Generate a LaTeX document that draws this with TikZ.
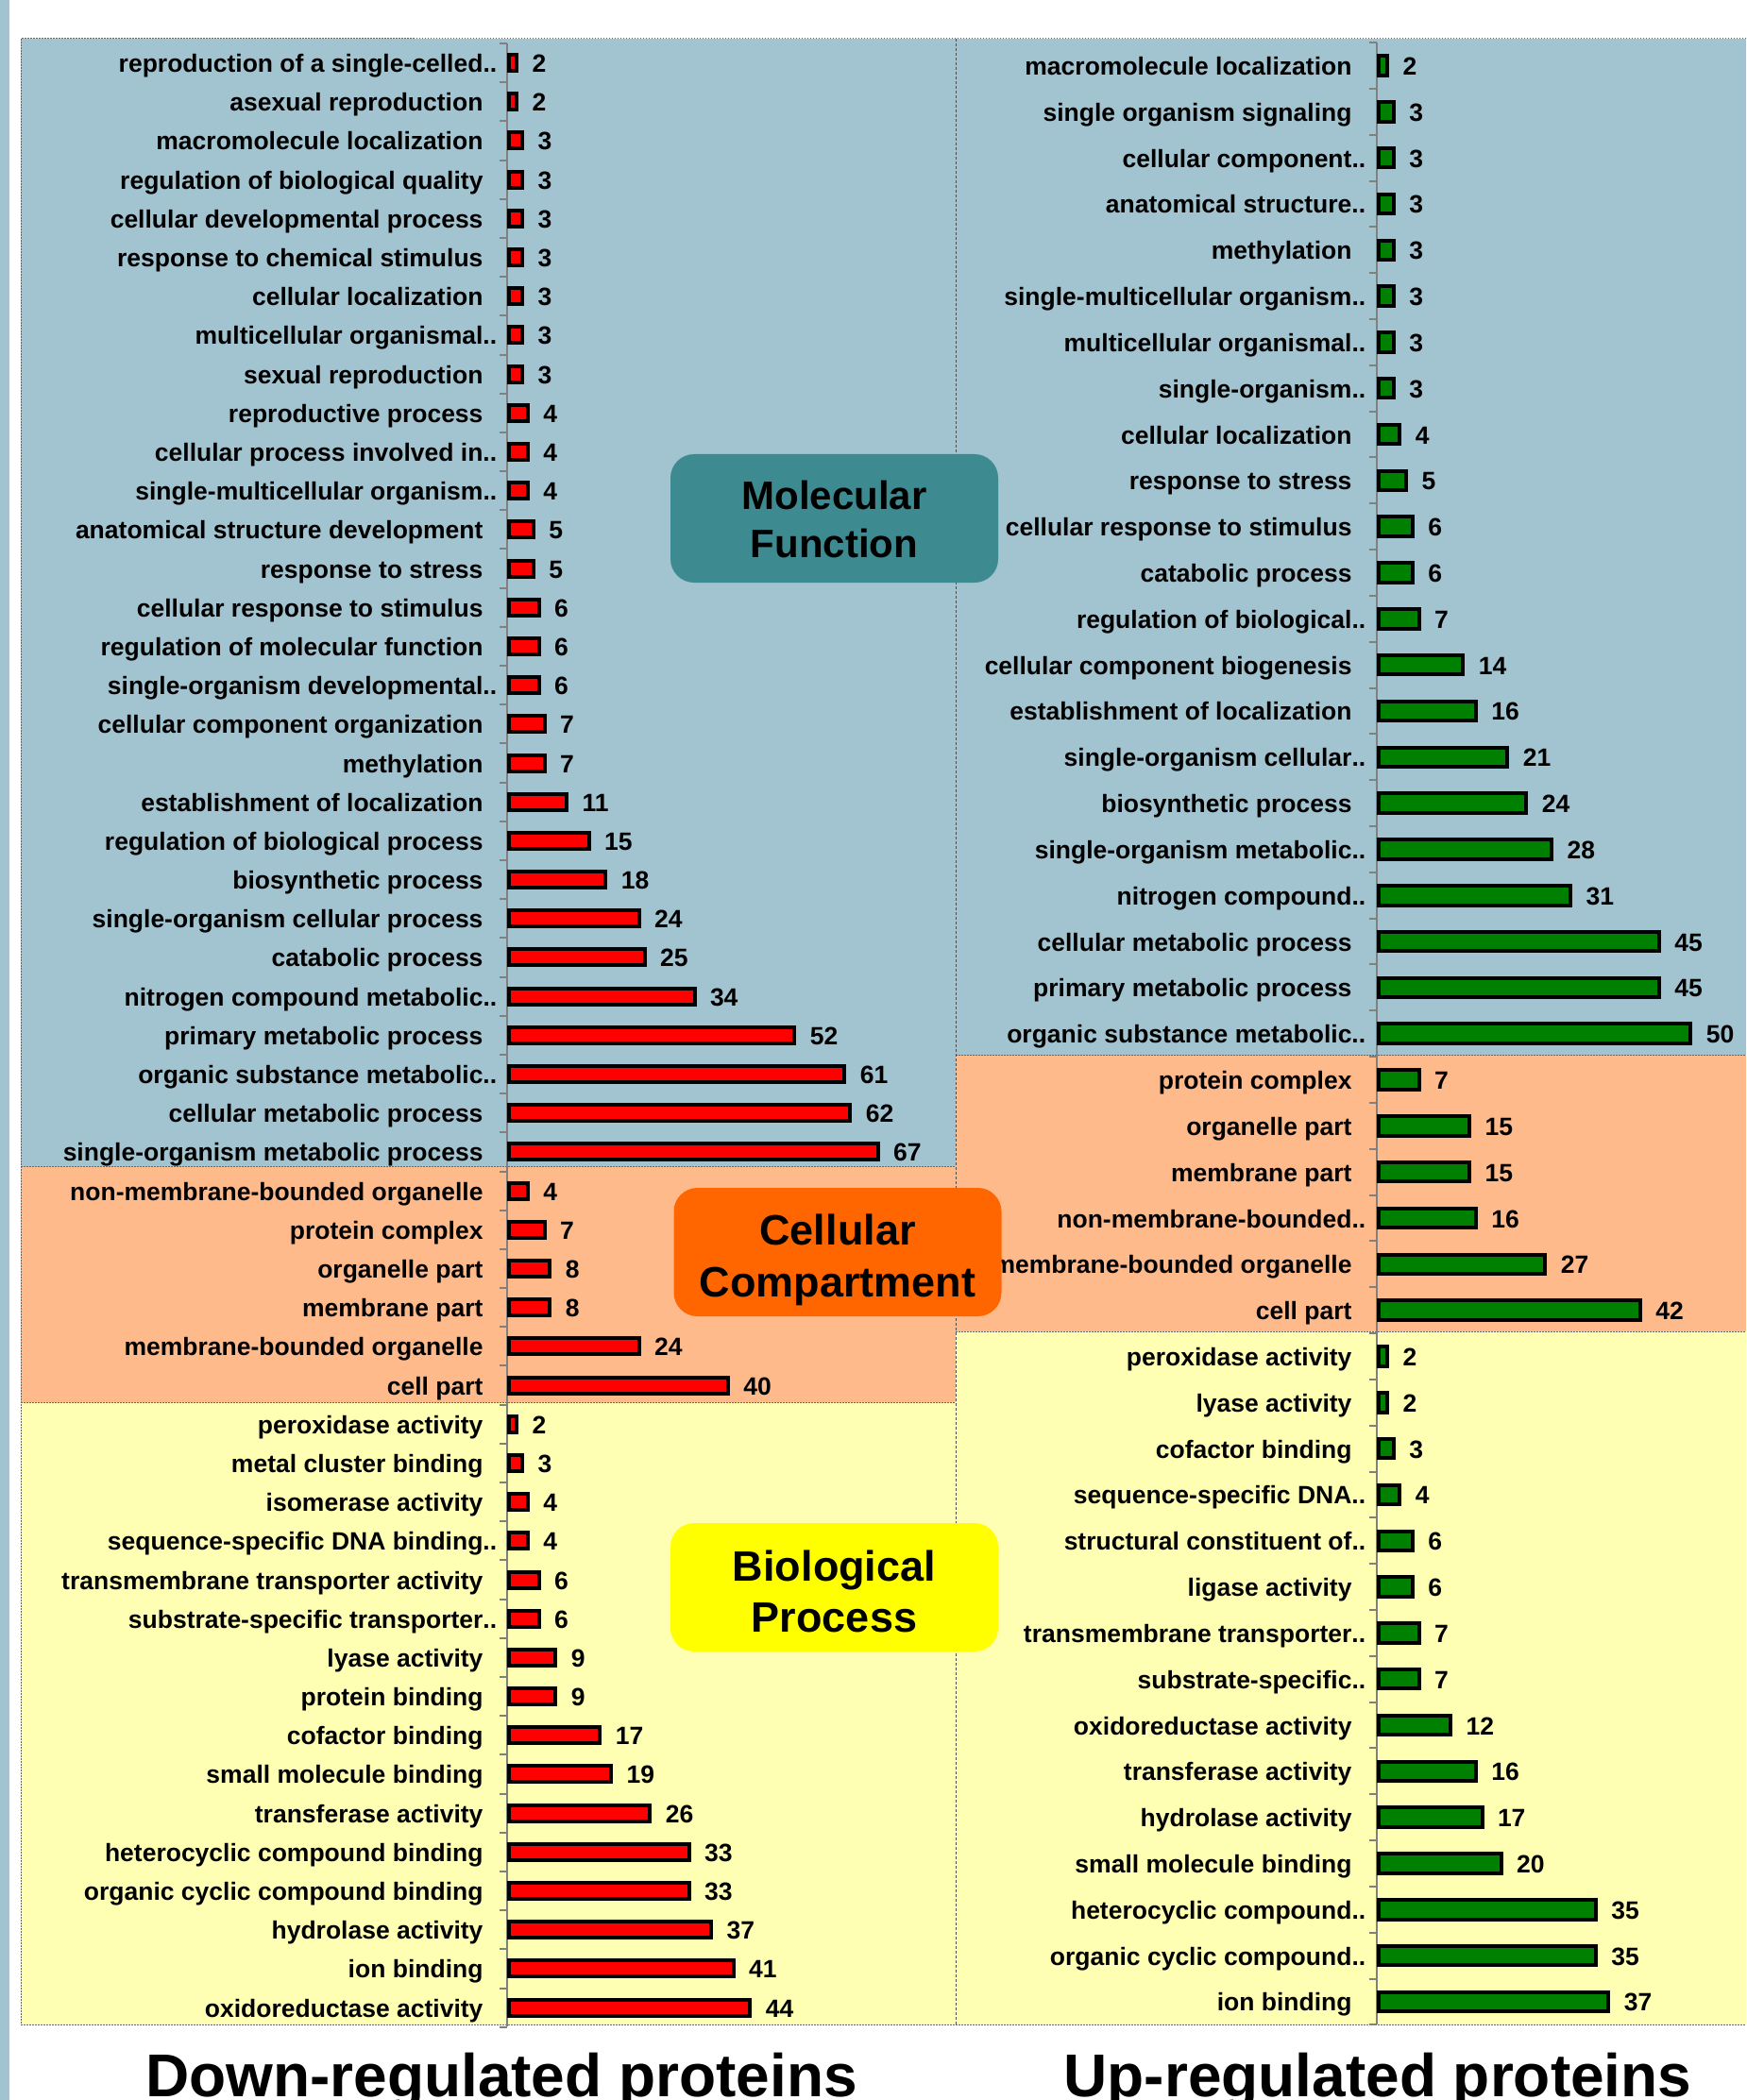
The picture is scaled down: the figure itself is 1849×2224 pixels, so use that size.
\documentclass[tikz,border=0pt]{standalone}
\usepackage{fontspec}
\setmainfont{Liberation Sans}
\definecolor{pblue}{HTML}{A2C3D0}
\definecolor{porange}{HTML}{FFBA8C}
\definecolor{pyellow}{HTML}{FFFFB3}
\definecolor{mfteal}{HTML}{3D8A91}
\definecolor{ccorange}{HTML}{FF6600}
\definecolor{bpyellow}{HTML}{FFFF00}
\definecolor{bargreen}{HTML}{008000}
\begin{document}
\begin{tikzpicture}[x=0.4pt,y=-0.4pt,
  clab/.style={inner sep=0pt,font=\fontsize{10.6}{12}\selectfont\bfseries},
  vlab/.style={inner sep=0pt,font=\fontsize{10.6}{12}\selectfont\bfseries},
  redbar/.style={fill=red,draw=black,line width=1.6pt},
  greenbar/.style={fill=bargreen,draw=black,line width=1.6pt},
  axisline/.style={draw=gray,line width=0.8pt},
  sepline/.style={draw=gray!80!black,line width=0.4pt,dash pattern=on 0.6pt off 0.6pt},
  secbox/.style={rounded corners=10pt,inner sep=0pt,minimum width=138.8pt,minimum height=54.4pt},
  sectext/.style={inner sep=0pt,align=center,text=black},
  titletext/.style={inner sep=0pt,font=\fontsize{25.6}{30}\selectfont\bfseries}
]
\useasboundingbox (0,0) rectangle (1849,2224);
\fill[white] (0,0) rectangle (1849,2224);
\fill[pblue] (0,0) rectangle (10,2224);
% panels
\fill[pblue] (22,41) rectangle (1012,1235);
\fill[porange] (22,1235) rectangle (1012,1485);
\fill[pyellow] (22,1485) rectangle (1012,2144);
\fill[pblue] (1012,41) rectangle (1849,1117.5);
\fill[porange] (1012,1117.5) rectangle (1849,1410);
\fill[pyellow] (1012,1410) rectangle (1849,2144);
\draw[sepline] (1849,41) -- (22,41) -- (22,2144) -- (1849,2144);
\draw[sepline] (22,1235) -- (1012,1235);
\draw[sepline] (22,1485) -- (1012,1485);
\draw[sepline] (1012,1117.5) -- (1849,1117.5);
\draw[sepline] (1012,1410) -- (1849,1410);
\draw[draw=gray!60!black,line width=0.4pt,dash pattern=on 1.2pt off 0.8pt] (1012,41) -- (1012,2144);
% axes
\draw[axisline] (537.4,46) -- (537.4,2146);
\foreach \k in {0,...,51} {\draw[axisline] (529.4,{66.6+41.19*(\k-0.5)}) -- (537.4,{66.6+41.19*(\k-0.5)});}
\draw[axisline] (1457.7,45) -- (1457.7,2144);
\foreach \k in {0,...,43} {\draw[axisline] (1449.7,{69.5+48.82*(\k-0.5)}) -- (1457.7,{69.5+48.82*(\k-0.5)});}
% left rows
\foreach \i/\lab/\v in {
0/{reproduction of a single-celled\rlap{..}}/2,
1/{asexual reproduction}/2,
2/{macromolecule localization}/3,
3/{regulation of biological quality}/3,
4/{cellular developmental process}/3,
5/{response to chemical stimulus}/3,
6/{cellular localization}/3,
7/{multicellular organismal\rlap{..}}/3,
8/{sexual reproduction}/3,
9/{reproductive process}/4,
10/{cellular process involved in\rlap{..}}/4,
11/{single-multicellular organism\rlap{..}}/4,
12/{anatomical structure development}/5,
13/{response to stress}/5,
14/{cellular response to stimulus}/6,
15/{regulation of molecular function}/6,
16/{single-organism developmental\rlap{..}}/6,
17/{cellular component organization}/7,
18/{methylation}/7,
19/{establishment of localization}/11,
20/{regulation of biological process}/15,
21/{biosynthetic process}/18,
22/{single-organism cellular process}/24,
23/{catabolic process}/25,
24/{nitrogen compound metabolic\rlap{..}}/34,
25/{primary metabolic process}/52,
26/{organic substance metabolic\rlap{..}}/61,
27/{cellular metabolic process}/62,
28/{single-organism metabolic process}/67,
29/{non-membrane-bounded organelle}/4,
30/{protein complex}/7,
31/{organelle part}/8,
32/{membrane part}/8,
33/{membrane-bounded organelle}/24,
34/{cell part}/40,
35/{peroxidase activity}/2,
36/{metal cluster binding}/3,
37/{isomerase activity}/4,
38/{sequence-specific DNA binding\rlap{..}}/4,
39/{transmembrane transporter activity}/6,
40/{substrate-specific transporter\rlap{..}}/6,
41/{lyase activity}/9,
42/{protein binding}/9,
43/{cofactor binding}/17,
44/{small molecule binding}/19,
45/{transferase activity}/26,
46/{heterocyclic compound binding}/33,
47/{organic cyclic compound binding}/33,
48/{hydrolase activity}/37,
49/{ion binding}/41,
50/{oxidoreductase activity}/44}
{
  \pgfmathsetmacro\yy{66.6+41.19*\i}
  \pgfmathsetmacro\xe{537.4+\v*5.885}
  \draw[redbar] (539.4,\yy-8.5) rectangle (\xe-2,\yy+8.5);
  \node[clab,anchor=base east] (L\i) at (512,\yy+10) {\lab};
  \node[vlab,anchor=base west] (Lv\i) at (\xe+14,\yy+10) {\v};
}
% right rows
\foreach \i/\lab/\v in {
0/{macromolecule localization}/2,
1/{single organism signaling}/3,
2/{cellular component\rlap{..}}/3,
3/{anatomical structure\rlap{..}}/3,
4/{methylation}/3,
5/{single-multicellular organism\rlap{..}}/3,
6/{multicellular organismal\rlap{..}}/3,
7/{single-organism\rlap{..}}/3,
8/{cellular localization}/4,
9/{response to stress}/5,
10/{cellular response to stimulus}/6,
11/{catabolic process}/6,
12/{regulation of biological\rlap{..}}/7,
13/{cellular component biogenesis}/14,
14/{establishment of localization}/16,
15/{single-organism cellular\rlap{..}}/21,
16/{biosynthetic process}/24,
17/{single-organism metabolic\rlap{..}}/28,
18/{nitrogen compound\rlap{..}}/31,
19/{cellular metabolic process}/45,
20/{primary metabolic process}/45,
21/{organic substance metabolic\rlap{..}}/50,
22/{protein complex}/7,
23/{organelle part}/15,
24/{membrane part}/15,
25/{non-membrane-bounded\rlap{..}}/16,
26/{membrane-bounded organelle}/27,
27/{cell part}/42,
28/{peroxidase activity}/2,
29/{lyase activity}/2,
30/{cofactor binding}/3,
31/{sequence-specific DNA\rlap{..}}/4,
32/{structural constituent of\rlap{..}}/6,
33/{ligase activity}/6,
34/{transmembrane transporter\rlap{..}}/7,
35/{substrate-specific\rlap{..}}/7,
36/{oxidoreductase activity}/12,
37/{transferase activity}/16,
38/{hydrolase activity}/17,
39/{small molecule binding}/20,
40/{heterocyclic compound\rlap{..}}/35,
41/{organic cyclic compound\rlap{..}}/35,
42/{ion binding}/37}
{
  \pgfmathsetmacro\yy{69.5+48.82*\i}
  \pgfmathsetmacro\xe{1457.7+\v*6.693}
  \draw[greenbar] (1459.7,\yy-10.25) rectangle (\xe-2,\yy+10.25);
  \node[clab,anchor=base east] (R\i) at (1432,\yy+10) {\lab};
  \node[vlab,anchor=base west] (Rv\i) at (\xe+14,\yy+10) {\v};
}
% section boxes
\node[secbox,fill=mfteal] (mf) at (883.5,549) {};
\node[sectext,font=\fontsize{16.8}{20.3}\selectfont\bfseries] (mftext) at (883.5,550) {Molecular\\Function};
\node[secbox,fill=ccorange] (cc) at (887,1326) {};
\node[sectext,font=\fontsize{18}{22}\selectfont\bfseries] (cctext) at (887,1334) {Cellular\\Compartment};
\node[secbox,fill=bpyellow] (bp) at (883.5,1681) {};
\node[sectext,font=\fontsize{18}{21.6}\selectfont\bfseries] (bptext) at (883.5,1685) {Biological\\Process};
% titles
\node[titletext,anchor=base] (down) at (531,2220) {Down-regulated proteins};
\node[titletext,anchor=base] (up) at (1459,2220) {Up-regulated proteins};
\end{tikzpicture}
\end{document}
